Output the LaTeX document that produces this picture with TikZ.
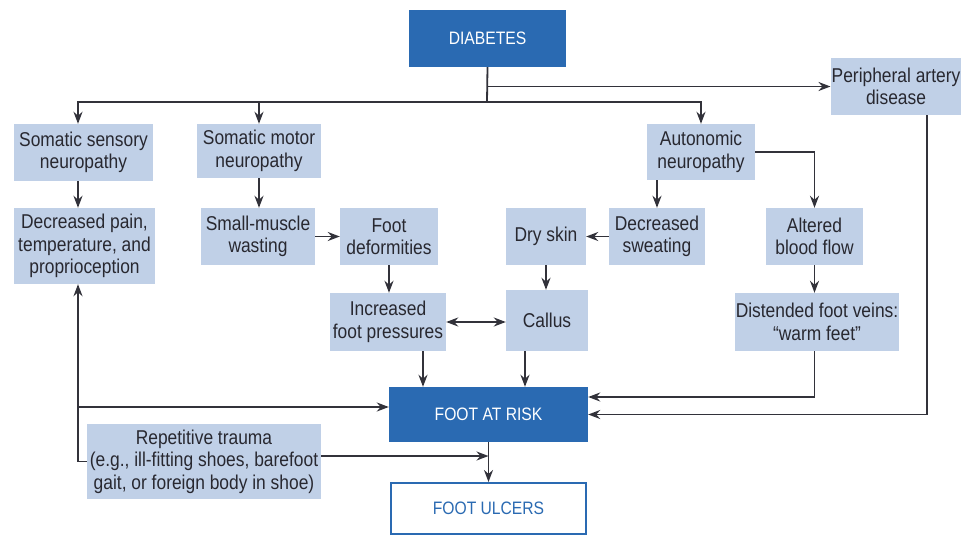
\documentclass[tikz,border=0pt]{standalone}
\usepackage{fontspec}
\setmainfont{Liberation Sans}[FakeStretch=0.87]
\usepackage{xcolor}
\usetikzlibrary{arrows.meta, positioning, calc}
\definecolor{DMBlue}{RGB}{42,106,178}
\definecolor{DMLight}{RGB}{192,208,231}
\definecolor{DMText}{RGB}{40,40,48}
\definecolor{DMLine}{RGB}{50,50,58}
\tikzset{
  cause/.style={rectangle, fill=DMLight, text=DMText, inner sep=1pt,
    align=center, font=\fontsize{20}{22.5}\selectfont},
  key/.style={rectangle, fill=DMBlue, text=white, inner sep=1pt,
    align=center, font=\fontsize{18}{20}\selectfont},
  outc/.style={rectangle, draw=DMBlue, line width=2pt, fill=white, text=DMBlue,
    inner sep=1pt, align=center, font=\fontsize{18}{20}\selectfont},
  arrow/.style={-{Stealth[length=12pt, width=9pt]}, line width=1.8pt, draw=DMLine}
}

\begin{document}
\begin{tikzpicture}[x=1pt, y=-1pt]
  \useasboundingbox (0,0) rectangle (962,536);

  \node[key,   minimum width=157pt, minimum height=57pt] (diab)   at (487.5,38.5) {DIABETES};
  \node[cause, minimum width=128pt, minimum height=57pt] (pad)    at (896,86.5) {Peripheral artery\\disease};
  \node[cause, minimum width=139pt, minimum height=57pt] (sens)   at (83.5,152.5) {Somatic sensory\\neuropathy};
  \node[cause, minimum width=124pt, minimum height=54pt] (motor)  at (259,151) {Somatic motor\\neuropathy};
  \node[cause, minimum width=108pt, minimum height=56pt] (auton)  at (701,152) {Autonomic\\neuropathy};
  \node[cause, minimum width=141pt, minimum height=76pt] (pain)   at (84.5,246) {Decreased pain,\\temperature, and\\proprioception};
  \node[cause, minimum width=114pt, minimum height=57pt] (wast)   at (258,236.5) {Small-muscle\\wasting};
  \node[cause, minimum width=98pt,  minimum height=57pt] (deform) at (389,236.5) {Foot\\deformities};
  \node[cause, minimum width=80pt,  minimum height=57pt] (dry)    at (546,236.5) {Dry skin};
  \node[cause, minimum width=96pt,  minimum height=57pt] (sweat)  at (657,236.5) {Decreased\\sweating};
  \node[cause, minimum width=97pt,  minimum height=57pt] (blood)  at (814.5,236.5) {Altered\\blood flow};
  \node[cause, minimum width=116pt, minimum height=58pt] (press)  at (388,322) {Increased\\foot pressures};
  \node[cause, minimum width=82pt,  minimum height=61pt] (callus) at (547,320.5) {Callus};
  \node[cause, minimum width=164pt, minimum height=58pt] (vein)   at (817,322) {Distended foot veins:\\``warm feet''};
  \node[key,   minimum width=199pt, minimum height=55pt] (risk)   at (488.5,414.5) {FOOT AT RISK};
  \node[cause, minimum width=234pt, minimum height=75pt] (trauma) at (204,461.5) {Repetitive trauma\\(e.g., ill-fitting shoes, barefoot\\gait, or foreign body in shoe)};
  \node[outc,  minimum width=195pt, minimum height=51pt] (ulcer)  at (488.5,508.5) {FOOT ULCERS};

  % from diabetes
  \coordinate (split) at (487,102);
  \draw[arrow] (diab.south) -- (split) -| ([xshift=-5.5pt]sens.north);
  \draw[arrow] (split) -| (motor.north);
  \draw[arrow] (split) -| (auton.north);
  \draw[arrow] (diab.south |- pad.west) -- (pad.west);

  % neuropathy chains
  \coordinate (s1) at ([xshift=-5.5pt]sens.south);
  \draw[arrow] (s1) -- (s1 |- pain.north);
  \draw[arrow] (motor.south) -- (motor.south |- wast.north);
  \draw[arrow] (wast.east) -- (deform.west);
  \draw[arrow] (deform.south) -- (deform.south |- press.north);
  \draw[arrow] (sweat.north |- auton.south) -- (sweat.north);
  \draw[arrow] (auton.east) -| (blood.north);
  \draw[arrow] (sweat.west) -- (dry.east);
  \draw[arrow] (dry.south) -- (dry.south |- callus.north);
  \draw[arrow] (blood.south) -- (blood.south |- vein.north);
  \draw[arrow, {Stealth[length=12pt, width=9pt]}-{Stealth[length=12pt, width=9pt]}]
    (press.east) -- (press.east -| callus.west);

  % into foot at risk
  \coordinate (p1) at ([xshift=35pt]press.south);
  \draw[arrow] (p1) -- (p1 |- risk.north);
  \coordinate (c1) at ([xshift=-22pt]callus.south);
  \draw[arrow] (c1) -- (c1 |- risk.north);
  \coordinate (v1) at (blood.south |- vein.south);
  \draw[arrow] (v1) |- ([yshift=17.5pt]risk.east);
  \coordinate (p2) at ([xshift=31pt]pad.south);
  \draw[arrow] (p2) |- (risk.east);
  \coordinate (p3) at ([xshift=-6.5pt]pain.south);
  \coordinate (p4) at ([yshift=7.5pt]risk.west);
  \draw[arrow] (trauma.west) -| (p3);
  \draw[arrow] (p3 |- p4) -- (p4);

  % ulcers
  \coordinate (t1) at ([yshift=5.5pt]trauma.east);
  \draw[arrow] (t1) -- (t1 -| risk.south);
  \draw[arrow] (risk.south) -- (ulcer.north);
\end{tikzpicture}
\end{document}
